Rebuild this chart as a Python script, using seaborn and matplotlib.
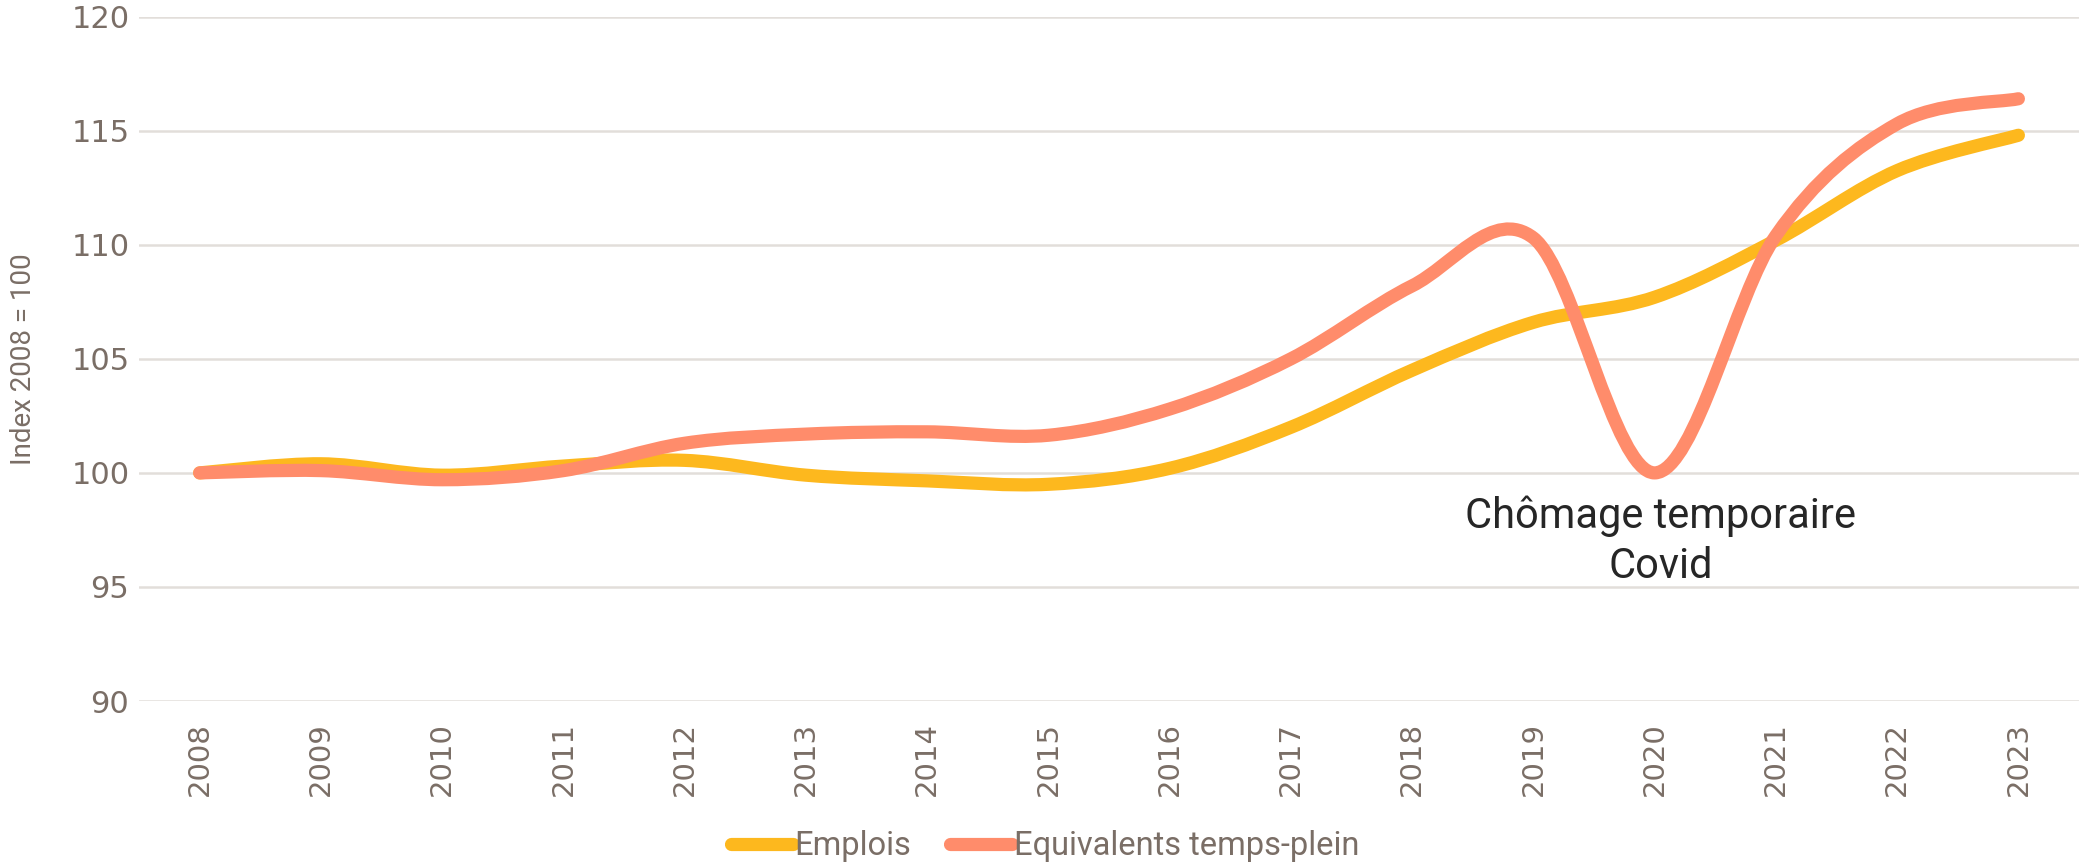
import numpy as np
import pandas as pd
import matplotlib.pyplot as plt
import seaborn as sns
from matplotlib.path import Path
from matplotlib.patches import PathPatch

# Data (index 2008 = 100)
years = list(range(2008, 2024))
emplois = [100.0, 100.4, 99.9, 100.3, 100.55, 99.9, 99.65, 99.5, 100.2, 102.0,
           104.5, 106.6, 107.7, 110.2, 113.25, 114.8]
etp = [100.0, 100.1, 99.7, 100.1, 101.3, 101.7, 101.8, 101.65, 102.8, 105.0,
       108.2, 110.3, 100.0, 110.4, 115.3, 116.4]
series_names = ["Emplois", "Equivalents temps-plein"]
colors = {"Emplois": "#FDB81E", "Equivalents temps-plein": "#FF8C6B"}
annotation = "Chômage temporaire\nCovid"

df = pd.concat([
    pd.DataFrame({"year": years, "value": emplois, "series": series_names[0]}),
    pd.DataFrame({"year": years, "value": etp, "series": series_names[1]}),
])

sns.set_theme(style="white")
plt.rcParams['font.family'] = ['DejaVu Sans']
text_col = "#7A6E66"

fig = plt.figure(figsize=(20.79, 8.66), dpi=100)
ax = fig.add_axes([0.0669, 0.1905, 0.9331, 0.7903])

sns.lineplot(data=df, x="year", y="value", hue="series", palette=colors,
             linewidth=9.5, legend=False, ax=ax)

ax.set_xlim(2007.5, 2023.5)
ax.set_ylim(90, 120)
ax.set_xticks(years)
ax.set_xticklabels([str(y) for y in years], rotation=90, fontsize=21, color=text_col)
ax.set_yticks(range(90, 121, 5))
ax.set_yticklabels([str(v) for v in range(90, 121, 5)], fontsize=22, color=text_col)
ax.tick_params(axis="x", length=0, pad=15)
ax.tick_params(axis="y", length=0, pad=7)
ax.grid(axis="y", color="#E2DEDA", linewidth=1.8)
ax.grid(axis="x", visible=False)
for s in ax.spines.values():
    s.set_visible(False)
ax.set_xlabel("")
ax.set_ylabel("Index 2008 = 100", fontsize=20, color=text_col,
              family=["Roboto", "DejaVu Sans"], labelpad=25)

# legend from the seaborn lines, before swapping them for smoothed paths
leg = ax.legend(handles=ax.lines[:2], labels=series_names, loc="center",
                bbox_to_anchor=(0.467, -0.212), ncol=2, frameon=False,
                handlelength=1.9, handletextpad=0.05, columnspacing=1.2,
                prop={"family": ["Roboto", "DejaVu Sans"], "size": 23.5})
for t in leg.get_texts():
    t.set_color(text_col)
for h in leg.get_lines():
    h.set_solid_capstyle("round")

# smooth each seaborn line like a spreadsheet "smoothed line" (cubic Bezier)
for line in ax.lines:
    xy = np.asarray(line.get_xydata())
    p = np.vstack([xy[0], xy, xy[-1]])
    verts = [xy[0]]
    codes = [Path.MOVETO]
    for i in range(1, len(p) - 2):
        c1 = p[i] + (p[i + 1] - p[i - 1]) / 6
        c2 = p[i + 1] - (p[i + 2] - p[i]) / 6
        verts += [c1, c2, p[i + 1]]
        codes += [Path.CURVE4] * 3
    patch = PathPatch(Path(verts, codes), facecolor="none",
                      edgecolor=line.get_color(), linewidth=line.get_linewidth(),
                      capstyle="round", joinstyle="round", zorder=line.get_zorder())
    ax.add_patch(patch)
    line.set_visible(False)

ax.text(2020.05, 97.0, annotation, ha="center", va="center", fontsize=30,
        color="#262626", family=["Roboto", "DejaVu Sans"], linespacing=1.3)

fig.savefig("out.png", dpi=100)
